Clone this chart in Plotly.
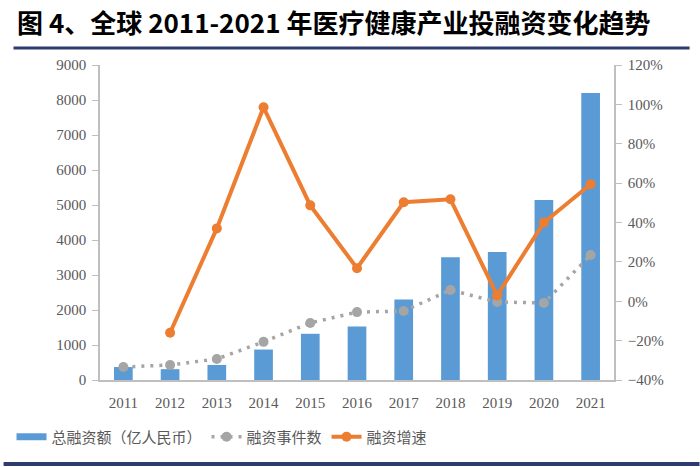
import plotly.graph_objects as go

# ── data ──────────────────────────────────────────────────────────────────────
years = ["2011", "2012", "2013", "2014", "2015", "2016",
         "2017", "2018", "2019", "2020", "2021"]
total_amount = [370, 310, 430, 870, 1320, 1530, 2300, 3510, 3660, 5140, 8200]
event_count = [370, 430, 600, 1090, 1630, 1940, 1970, 2570, 2230, 2200, 3570]
growth_rate = [None, -0.16, 0.37, 0.985, 0.487, 0.168, 0.503, 0.518, 0.03, 0.40, 0.594]

left_ticks = [0, 1000, 2000, 3000, 4000, 5000, 6000, 7000, 8000, 9000]
right_ticks = [-0.4, -0.2, 0, 0.2, 0.4, 0.6, 0.8, 1.0, 1.2]

TITLE = "图 4、全球 2011-2021 年医疗健康产业投融资变化趋势"

# ── layout constants ─────────────────────────────────────────────────────────
W, H = 700, 467
L, R, T, B = 97, 86, 65, 87
PW, PH = W - L - R, H - T - B


def px_x(px):
    return (px - L) / PW


def px_y(px):
    """pixel y (from top) -> paper y"""
    return (H - B - px) / PH


AXIS_GRAY = "#bfbfbf"
TXT_GRAY = "#595959"
SERIF = "Liberation Serif"
CJK = "Noto Sans CJK SC"
BLUE, GRAY, ORANGE = "#5b9bd5", "#a5a5a5", "#ed7d31"

fig = go.Figure()

fig.add_trace(go.Bar(
    x=years, y=total_amount, name="总融资额（亿人民币）",
    marker=dict(color=BLUE, line=dict(width=0)),
    width=0.4, yaxis="y", showlegend=False, legendgroup="amt",
))
# wide swatch for the bar series in the legend
fig.add_trace(go.Scatter(
    x=[None], y=[None], name="总融资额（亿人民币）", mode="lines",
    line=dict(color=BLUE, width=7), legendgroup="amt",
))

fig.add_trace(go.Scatter(
    x=years, y=event_count, name="融资事件数",
    mode="lines+markers",
    line=dict(color=GRAY, width=3.5, dash="3px,6px"),
    marker=dict(color=GRAY, size=10),
    yaxis="y",
))

fig.add_trace(go.Scatter(
    x=years, y=growth_rate, name="融资增速",
    mode="lines+markers",
    line=dict(color=ORANGE, width=4),
    marker=dict(color=ORANGE, size=10),
    yaxis="y2", connectgaps=False,
))

fig.update_layout(
    width=W, height=H,
    margin=dict(l=L, r=R, t=T, b=B),
    paper_bgcolor="white", plot_bgcolor="white",
    xaxis=dict(
        type="category", range=[-0.5, 10.5],
        showline=True, linecolor=AXIS_GRAY, linewidth=1.5,
        ticks="", showgrid=False, ticklabelstandoff=8,
        tickfont=dict(family=SERIF, size=15, color=TXT_GRAY),
    ),
    yaxis=dict(
        range=[0, 9000], tickvals=left_ticks,
        showline=True, linecolor=AXIS_GRAY, linewidth=1.5,
        ticks="outside", ticklen=6, tickcolor=AXIS_GRAY,
        showgrid=False, zeroline=False, ticklabelstandoff=3,
        tickfont=dict(family=SERIF, size=15, color=TXT_GRAY),
    ),
    yaxis2=dict(
        overlaying="y", side="right",
        range=[-0.4, 1.2], tickvals=right_ticks, tickformat=".0%",
        showline=True, linecolor=AXIS_GRAY, linewidth=1.5,
        ticks="outside", ticklen=6, tickcolor=AXIS_GRAY,
        showgrid=False, zeroline=False, ticklabelstandoff=3,
        tickfont=dict(family=SERIF, size=15, color=TXT_GRAY),
    ),
    legend=dict(
        orientation="h", x=px_x(8), y=px_y(437), yanchor="middle", xanchor="left",
        font=dict(family=CJK, size=15, color=TXT_GRAY),
        tracegroupgap=0, bgcolor="rgba(0,0,0,0)",
    ),
    showlegend=True,
)

# title
fig.add_annotation(
    text="<b>" + TITLE + "</b>",
    xref="paper", yref="paper", x=px_x(12), y=px_y(21),
    xanchor="left", yanchor="middle", showarrow=False,
    font=dict(family=CJK, size=26, color="black"),
)

# rule under title and at bottom
fig.add_shape(type="line", xref="paper", yref="paper",
              x0=px_x(10), x1=px_x(690), y0=px_y(48), y1=px_y(48),
              line=dict(color="#2e3b6e", width=3))
fig.add_shape(type="line", xref="paper", yref="paper",
              x0=px_x(0), x1=px_x(700), y0=px_y(464), y1=px_y(464),
              line=dict(color="#2e3b6e", width=4))

fig.write_html("out.html", config={"displayModeBar": False},
               post_script="document.body.style.margin='0';")
